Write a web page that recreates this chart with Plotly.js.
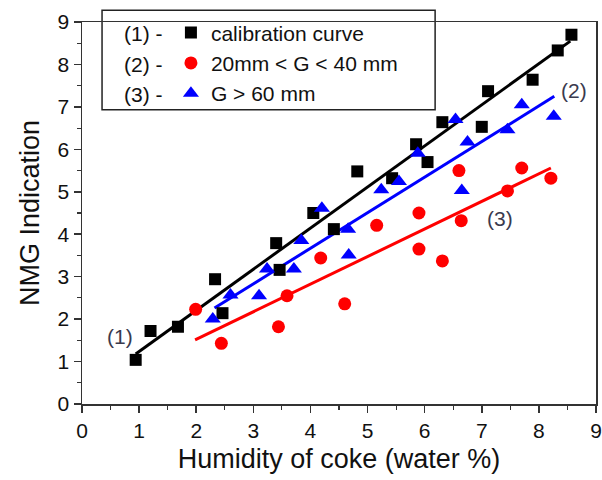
<!DOCTYPE html>
<html>
<head>
<meta charset="utf-8">
<script src="https://cdn.plot.ly/plotly-3.0.1.min.js"></script>
<style>html,body{margin:0;padding:0;background:#fff;}#chart{width:602px;height:480px;}</style>
</head>
<body>
<div id="chart"></div>
<script>
// Calibration curve (1) - black squares
const calX = [0.94, 1.20, 1.68, 2.33, 2.46, 3.40, 3.46, 4.05, 4.41, 4.82, 5.43, 5.85, 6.05, 6.31, 7.00, 7.11, 7.89, 8.33, 8.57];
const calY = [1.04, 1.72, 1.82, 2.94, 2.14, 3.79, 3.16, 4.50, 4.12, 5.48, 5.32, 6.12, 5.70, 6.64, 6.53, 7.37, 7.64, 8.33, 8.70];
// 20mm < G < 40mm - red circles
const midX = [1.99, 2.44, 3.44, 3.59, 4.18, 4.60, 5.16, 5.90, 5.90, 6.31, 6.64, 6.60, 7.45, 7.70, 8.21];
const midY = [2.23, 1.43, 1.82, 2.55, 3.44, 2.36, 4.21, 4.50, 3.65, 3.37, 4.32, 5.50, 5.02, 5.56, 5.32];
// G > 60 mm - blue triangles
const bigX = [2.29, 2.60, 3.10, 3.24, 3.71, 3.84, 4.20, 4.66, 4.67, 5.24, 5.55, 5.88, 6.54, 6.65, 6.75, 7.45, 7.70, 8.26];
const bigY = [2.00, 2.57, 2.55, 3.18, 3.18, 3.85, 4.61, 4.12, 3.51, 5.05, 5.24, 5.91, 6.70, 5.03, 6.17, 6.46, 7.05, 6.78];
// Fitted lines (end points)
const calFitX = [0.94, 8.55], calFitY = [1.18, 8.55];
const bigFitX = [2.32, 8.27], bigFitY = [2.26, 7.25];
const midFitX = [1.98, 8.21], midFitY = [1.51, 5.56];
// Legend labels
const legendNames = ['calibration curve', '20mm &lt; G &lt; 40 mm', 'G &gt; 60 mm'];
const legendPrefixes = ['(1) -', '(2) -', '(3) -'];
// Line labels
const lineLabels = [
  {text: '(1)', x: 0.67, y: 1.59},
  {text: '(2)', x: 8.62, y: 7.39},
  {text: '(3)', x: 7.32, y: 4.38}
];

const FONT = 'Liberation Sans, Arial, Helvetica, sans-serif';

const traces = [
  {x: calFitX, y: calFitY, mode: 'lines', line: {color: '#000', width: 3}, showlegend: false, hoverinfo: 'skip'},
  {x: bigFitX, y: bigFitY, mode: 'lines', line: {color: '#0000ff', width: 3}, showlegend: false, hoverinfo: 'skip'},
  {x: midFitX, y: midFitY, mode: 'lines', line: {color: '#ff0000', width: 3}, showlegend: false, hoverinfo: 'skip'},
  {x: calX, y: calY, mode: 'markers', name: legendNames[0], marker: {symbol: 'square', size: 12, color: '#000'}},
  {x: midX, y: midY, mode: 'markers', name: legendNames[1], marker: {symbol: 'circle', size: 13, color: '#ff0000'}},
  {x: bigX, y: bigY, mode: 'markers', name: legendNames[2], marker: {symbol: 'triangle-up', size: 14, color: '#0000ff'}}
];

const prefixRowsY = [0.969, 0.890, 0.811];
const annotations = legendPrefixes.map((t, i) => ({
  text: t, xref: 'paper', yref: 'paper', x: 0.078, y: prefixRowsY[i],
  xanchor: 'left', yanchor: 'middle', showarrow: false,
  font: {family: FONT, size: 21, color: '#111'}
})).concat(lineLabels.map(l => ({
  text: l.text, x: l.x, y: l.y, xref: 'x', yref: 'y', showarrow: false,
  xanchor: 'center', yanchor: 'middle',
  font: {family: FONT, size: 21, color: '#3a3a4e'}
})));

const axisCommon = {
  showline: true, linecolor: '#333', linewidth: 1.5, mirror: true,
  ticks: 'outside', ticklen: 7, tickwidth: 1.5, tickcolor: '#333',
  showgrid: false, zeroline: false,
  tickfont: {family: FONT, size: 21, color: '#111'},
  minor: {dtick: 0.5, ticks: 'outside', ticklen: 4, tickwidth: 1.2, tickcolor: '#333', showgrid: false}
};

const layout = {
  width: 602, height: 480,
  margin: {l: 82, r: 6, t: 22, b: 76},
  paper_bgcolor: '#fff', plot_bgcolor: '#fff',
  font: {family: FONT, color: '#111'},
  xaxis: Object.assign({}, axisCommon, {
    range: [0, 9], dtick: 1, tick0: 0,
    title: {text: 'Humidity of coke (water %)', font: {family: FONT, size: 27, color: '#111'}, standoff: 8}
  }),
  yaxis: Object.assign({}, axisCommon, {
    range: [0, 9], dtick: 1, tick0: 0,
    title: {text: 'NMG Indication', font: {family: FONT, size: 27, color: '#111'}, standoff: 10}
  }),
  showlegend: true,
  legend: {
    x: 0.173, y: 1.025, xanchor: 'left', yanchor: 'top',
    bgcolor: 'rgba(0,0,0,0)', borderwidth: 0,
    font: {family: FONT, size: 21, color: '#111'}
  },
  shapes: [{
    type: 'rect', xref: 'paper', yref: 'paper',
    x0: 0.039, x1: 0.687, y0: 0.770, y1: 1.031,
    line: {color: '#222', width: 1.5}, fillcolor: '#fff', layer: 'below'
  }],
  annotations: annotations
};

Plotly.newPlot('chart', traces, layout, {displayModeBar: false, staticPlot: true});
</script>
</body>
</html>
